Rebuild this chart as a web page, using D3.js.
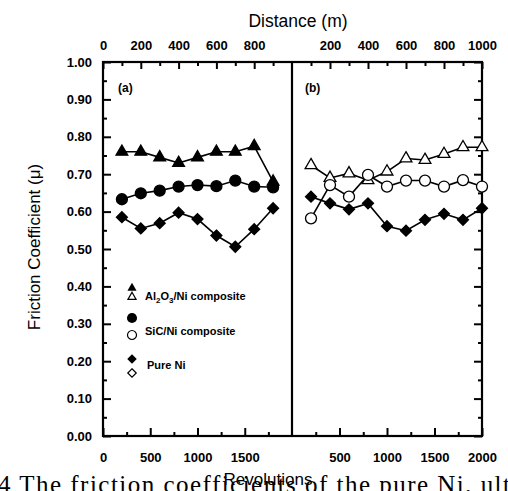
<!DOCTYPE html>
<html>
  <head>
    <meta charset="utf-8">
    <title>Friction coefficient</title>
    <style>
      body { margin: 0; background: #fff; }
      svg { display: block; }
      .tick text { font-family: "Liberation Sans", Arial, sans-serif; font-weight: bold; font-size: 13px; }
      .domain { display: none; }
    </style>
  </head>
  <body>
  <div id="chart"></div>
  <script src="https://cdn.jsdelivr.net/npm/d3@7"></script>
  <script>
    // revolutions at which the points were taken
    var revA = [200, 400, 600, 800, 1000, 1200, 1400, 1600, 1800];
    var revB = [200, 400, 600, 800, 1000, 1200, 1400, 1600, 1800, 2000];

    // (a) filled markers
    var aluminaA = [0.76, 0.76, 0.745, 0.73, 0.745, 0.76, 0.76, 0.775, 0.68];
    var sicA     = [0.633, 0.649, 0.656, 0.667, 0.671, 0.668, 0.683, 0.667, 0.665];
    var nickelA  = [0.585, 0.555, 0.569, 0.597, 0.580, 0.536, 0.506, 0.553, 0.609];

    // (b) open markers (triangles, circles) and filled diamonds
    var aluminaB = [0.724, 0.69, 0.702, 0.684, 0.707, 0.742, 0.738, 0.754, 0.772, 0.772];
    var sicB     = [0.582, 0.671, 0.640, 0.698, 0.667, 0.683, 0.683, 0.667, 0.684, 0.667];
    var nickelB  = [0.640, 0.622, 0.606, 0.622, 0.561, 0.549, 0.578, 0.594, 0.578, 0.609];

    // ticks
    var yTicks = [0, 0.1, 0.2, 0.3, 0.4, 0.5, 0.6, 0.7, 0.8, 0.9, 1.0];
    var yMinor = [0.05, 0.15, 0.25, 0.35, 0.45, 0.55, 0.65, 0.75, 0.85, 0.95];
    var revTicksA = [0, 500, 1000, 1500];
    var revTicksB = [500, 1000, 1500, 2000];
    var revMinor = [250, 750, 1250, 1750];
    var distTicksA = [0, 200, 400, 600, 800];
    var distTicksB = [200, 400, 600, 800, 1000];
    var distMinor = [100, 300, 500, 700, 900];

    var legendNames = ["Al2O3/Ni composite", "SiC/Ni composite", "Pure Ni"];

    var W = 508, H = 491;
    var plotL = 103, plotM = 292, plotR = 482, plotT = 62, plotB = 436;
    var font = "'Liberation Sans', Arial, sans-serif";

    var svg = d3.select("#chart").append("svg")
      .attr("width", W).attr("height", H);

    var y = d3.scaleLinear().domain([0, 1]).range([plotB, plotT]);
    var xa = d3.scaleLinear().domain([0, 2000]).range([plotL, plotM]);
    var xb = d3.scaleLinear().domain([0, 2000]).range([plotM, plotR]);
    var da = d3.scaleLinear().domain([0, 1000]).range([plotL, plotM]);
    var db = d3.scaleLinear().domain([0, 1000]).range([plotM, plotR]);

    // 菱形は正方形を45度回したもの
    var diamond = {
      draw: function (ctx, size) {
        var r = Math.sqrt(size / 2);
        ctx.moveTo(0, -r); ctx.lineTo(r, 0); ctx.lineTo(0, r); ctx.lineTo(-r, 0); ctx.closePath();
      }
    };

    function styleAxis(g) {
      g.selectAll(".tick line").attr("stroke", "#000").attr("stroke-width", 2);
    }

    // y axes
    svg.append("g").attr("transform", `translate(${plotL},0)`)
      .call(d3.axisLeft(y).tickValues(yTicks).tickFormat(d3.format(".2f")).tickSize(-8).tickPadding(11))
      .call(styleAxis);
    svg.append("g").attr("transform", `translate(${plotL},0)`)
      .call(d3.axisLeft(y).tickValues(yMinor).tickFormat("").tickSize(-4))
      .call(styleAxis);
    svg.append("g").attr("transform", `translate(${plotR},0)`)
      .call(d3.axisRight(y).tickValues(yTicks).tickFormat("").tickSize(-8))
      .call(styleAxis);
    svg.append("g").attr("transform", `translate(${plotR},0)`)
      .call(d3.axisRight(y).tickValues(yMinor).tickFormat("").tickSize(-4))
      .call(styleAxis);

    // bottom axes (revolutions)
    [[xa, revTicksA], [xb, revTicksB]].forEach(function (p) {
      svg.append("g").attr("transform", `translate(0,${plotB})`)
        .call(d3.axisBottom(p[0]).tickValues(p[1]).tickFormat(d3.format("d")).tickSize(-8).tickPadding(17))
        .call(styleAxis);
      svg.append("g").attr("transform", `translate(0,${plotB})`)
        .call(d3.axisBottom(p[0]).tickValues(revMinor).tickFormat("").tickSize(-4))
        .call(styleAxis);
    });

    // top axes (distance)
    [[da, distTicksA], [db, distTicksB]].forEach(function (p) {
      svg.append("g").attr("transform", `translate(0,${plotT})`)
        .call(d3.axisTop(p[0]).tickValues(p[1]).tickFormat(d3.format("d")).tickSize(-7).tickPadding(12))
        .call(styleAxis);
      svg.append("g").attr("transform", `translate(0,${plotT})`)
        .call(d3.axisTop(p[0]).tickValues(distMinor).tickFormat("").tickSize(-4))
        .call(styleAxis);
    });

    // frame and panel divider
    svg.append("rect")
      .attr("x", plotL).attr("y", plotT)
      .attr("width", plotR - plotL).attr("height", plotB - plotT)
      .attr("fill", "none").attr("stroke", "#000").attr("stroke-width", 2.2);
    svg.append("line")
      .attr("x1", plotM).attr("x2", plotM).attr("y1", plotT).attr("y2", plotB)
      .attr("stroke", "#000").attr("stroke-width", 2.2);

    // series
    var line = d3.line();
    function drawSeries(xs, revs, vals, shape, size, filled) {
      var pts = revs.map(function (r, i) { return [xs(r), y(vals[i])]; });
      svg.append("path")
        .attr("d", line(pts))
        .attr("fill", "none").attr("stroke", "#000").attr("stroke-width", 1.6);
      svg.append("g").selectAll("path")
        .data(pts).enter().append("path")
          .attr("transform", function (d) { return `translate(${d[0]},${d[1]})`; })
          .attr("d", d3.symbol().type(shape).size(size))
          .attr("fill", filled ? "#000" : "#fff")
          .attr("stroke", "#000").attr("stroke-width", 1.3);
    }

    drawSeries(xa, revA, nickelA, diamond, 60, true);
    drawSeries(xa, revA, sicA, d3.symbolCircle, 95, true);
    drawSeries(xa, revA, aluminaA, d3.symbolTriangle, 60, true);

    drawSeries(xb, revB, nickelB, diamond, 60, true);
    drawSeries(xb, revB, aluminaB, d3.symbolTriangle, 60, false);
    drawSeries(xb, revB, sicB, d3.symbolCircle, 95, false);

    // panel labels
    svg.append("text").attr("x", 118).attr("y", 92)
      .style("font-family", font).style("font-weight", "bold").style("font-size", "12px").text("(a)");
    svg.append("text").attr("x", 305).attr("y", 92)
      .style("font-family", font).style("font-weight", "bold").style("font-size", "12px").text("(b)");

    // legend
    var legendSymbols = [
      [d3.symbolTriangle, 36, 288, 297],
      [d3.symbolCircle, 80, 318, 335],
      [diamond, 45, 359, 373]
    ];
    legendSymbols.forEach(function (s, i) {
      svg.append("path")
        .attr("transform", `translate(132,${s[2]})`)
        .attr("d", d3.symbol().type(s[0]).size(s[1]))
        .attr("fill", "#000");
      svg.append("path")
        .attr("transform", `translate(132,${s[3]})`)
        .attr("d", d3.symbol().type(s[0]).size(s[1] * 0.8))
        .attr("fill", "#fff").attr("stroke", "#000").attr("stroke-width", 1.2);
    });
    var lg = svg.append("g")
      .style("font-family", font).style("font-weight", "bold").style("font-size", "11px");
    var t0 = lg.append("text").attr("x", 145).attr("y", 300);
    t0.append("tspan").text("Al");
    t0.append("tspan").attr("dy", 3).style("font-size", "8px").text("2");
    t0.append("tspan").attr("dy", -3).text("O");
    t0.append("tspan").attr("dy", 3).style("font-size", "8px").text("3");
    t0.append("tspan").attr("dy", -3).text("/Ni composite");
    lg.append("text").attr("x", 145).attr("y", 335).text(legendNames[1]);
    lg.append("text").attr("x", 147).attr("y", 369).text(legendNames[2]);

    // axis titles
    svg.append("text")
      .attr("x", 298).attr("y", 27)
      .attr("text-anchor", "middle")
      .style("font-family", font).style("font-size", "17.5px")
      .text("Distance (m)");
    svg.append("text")
      .attr("transform", "translate(40,247) rotate(-90)")
      .attr("text-anchor", "middle")
      .style("font-family", font).style("font-size", "17px")
      .text("Friction Coefficient (\u03bc)");

    // cut-off figure caption from the page underneath
    svg.append("text")
      .attr("x", -2).attr("y", 493)
      .attr("textLength", 512)
      .style("font-family", "'Liberation Serif', 'Times New Roman', serif")
      .style("font-size", "25px")
      .text("4 The friction coefficients of the pure Ni, ult");

    svg.append("text")
      .attr("x", 268).attr("y", 485)
      .attr("text-anchor", "middle")
      .style("font-family", font).style("font-size", "17px")
      .text("Revolutions");
  </script>
  </body>
</html>
